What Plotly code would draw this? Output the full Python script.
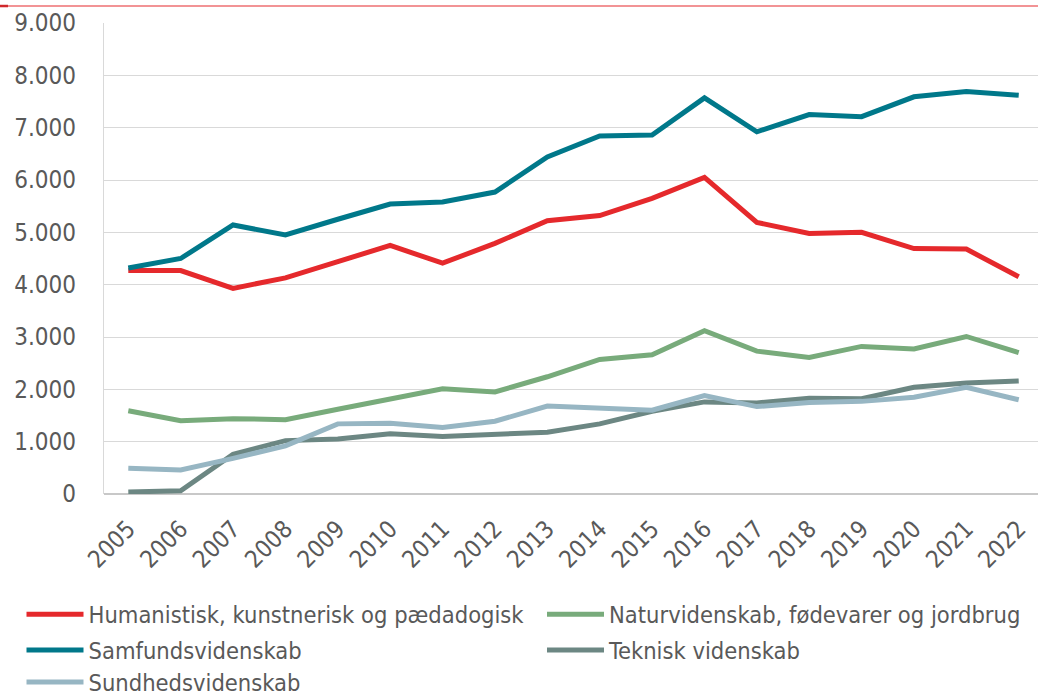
import plotly.graph_objects as go

years = list(range(2005, 2023))

humanistisk = [4270, 4270, 3930, 4130, 4440, 4750, 4410, 4790, 5220, 5320, 5650, 6050, 5190, 4980, 5000, 4690, 4680, 4150]
naturvidenskab = [1590, 1400, 1440, 1420, 1620, 1810, 2010, 1950, 2240, 2570, 2660, 3120, 2730, 2610, 2820, 2770, 3010, 2700]
samfund = [4320, 4500, 5140, 4950, 5250, 5540, 5580, 5770, 6440, 6840, 6860, 7570, 6920, 7250, 7210, 7590, 7690, 7620]
teknisk = [40, 60, 760, 1020, 1050, 1150, 1100, 1130, 1180, 1340, 1580, 1760, 1740, 1830, 1820, 2040, 2120, 2160]
sundhed = [490, 460, 680, 920, 1340, 1350, 1270, 1390, 1680, 1650, 1600, 1880, 1670, 1750, 1770, 1850, 2040, 1800]

series_names = [
    "Humanistisk, kunstnerisk og pædadogisk",
    "Naturvidenskab, fødevarer og jordbrug",
    "Samfundsvidenskab",
    "Teknisk videnskab",
    "Sundhedsvidenskab",
]
series_values = [humanistisk, naturvidenskab, samfund, teknisk, sundhed]
series_colors = ["#E5292C", "#78AB7B", "#00788A", "#6C8783", "#97B6C3"]

y_ticks = list(range(0, 9001, 1000))

W, H = 1038, 698
ml, mt = 104, 23
zero_px = 494.5
mb = H - zero_px
plot_w = W - ml
plot_h = zero_px - mt

FONT = "DejaVu Sans Condensed, DejaVu Sans, sans-serif"

# legend slots: (left px of legend box, vertical centre px)
legend_slots = [(21.5, 615), (542, 615), (21.5, 651), (542, 651), (21.5, 683)]
legend_ids = ["legend", "legend2", "legend3", "legend4", "legend5"]

fig = go.Figure()
for name, vals, col, lid in zip(series_names, series_values, series_colors, legend_ids):
    fig.add_trace(go.Scatter(
        x=years, y=vals, name=name, mode="lines",
        line=dict(color=col, width=5),
        legend=lid,
    ))

legend_layout = {}
for lid, (lx, ly) in zip(legend_ids, legend_slots):
    legend_layout[lid] = dict(
        orientation="h",
        x=(lx - ml) / plot_w, xanchor="left",
        y=(zero_px - ly) / plot_h, yanchor="middle",
        font=dict(family=FONT, size=23.5, color="#595959"),
        itemwidth=57,
        bgcolor="rgba(0,0,0,0)",
        borderwidth=0,
    )

fig.update_layout(
    width=W, height=H,
    margin=dict(l=ml, r=0, t=mt, b=mb, pad=0, autoexpand=False),
    paper_bgcolor="white", plot_bgcolor="white",
    separators=",.",
    showlegend=True,
    font=dict(family=FONT, color="#595959"),
    xaxis=dict(
        range=[2004.536, 2022.368],
        tickvals=years,
        ticktext=[str(y) for y in years],
        tickangle=-45,
        tickfont=dict(family=FONT, size=24, color="#595959"),
        showgrid=False,
        showline=False,
        zeroline=False,
        ticks="",
        ticklabelstandoff=15,
        automargin=False,
        fixedrange=True,
    ),
    yaxis=dict(
        range=[0, 9000],
        tickvals=y_ticks,
        tickformat=",d",
        tickfont=dict(family=FONT, size=24, color="#595959"),
        showgrid=True, gridcolor="#D9D9D9", gridwidth=1.3,
        showline=True, linecolor="#D9D9D9", linewidth=1.3,
        zeroline=True, zerolinecolor="#C8C8C8", zerolinewidth=1.5,
        ticks="",
        ticklabelstandoff=22,
        automargin=False,
        fixedrange=True,
    ),
    **legend_layout,
)

# thin red rule across the top of the page
rule_y = 1 + (mt - 6) / plot_h
fig.add_shape(type="line", xref="paper", yref="paper",
              x0=-ml / plot_w, x1=1.0, y0=rule_y, y1=rule_y,
              line=dict(color="#E5292C", width=1.2))
fig.add_shape(type="line", xref="paper", yref="paper",
              x0=-ml / plot_w, x1=(8 - ml) / plot_w, y0=rule_y, y1=rule_y,
              line=dict(color="#D0282B", width=2.5))

fig.write_html(
    "out.html",
    config={"displayModeBar": False},
    post_script="document.body.style.margin='0px';document.body.style.overflow='hidden';",
)
